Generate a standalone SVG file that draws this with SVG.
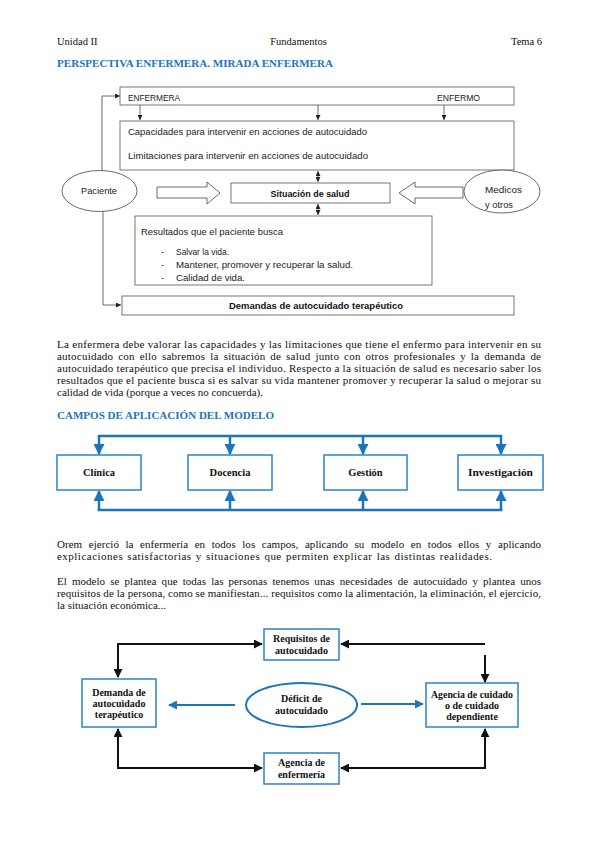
<svg xmlns="http://www.w3.org/2000/svg" width="599" height="848" viewBox="0 0 599 848">
<style>
.hd{font-family:"Liberation Serif",serif;font-size:10.5px;fill:#111}
.tt{font-family:"Liberation Serif",serif;font-size:10.5px;font-weight:bold;fill:#1b75bc}
.p{font-family:"Liberation Serif",serif;font-size:11px;fill:#111}
.s{font-family:"Liberation Sans",Arial,sans-serif;font-size:9px;fill:#222}
.sb{font-family:"Liberation Sans",Arial,sans-serif;font-size:9px;font-weight:bold;fill:#111}
.bx{fill:#fff;stroke:#555;stroke-width:0.8}
.ln{fill:none;stroke:#444;stroke-width:0.8}
.cb{fill:#fff;stroke:#2b82c9;stroke-width:1.5}
.ct{font-family:"Liberation Serif",serif;font-size:10.5px;font-weight:bold;fill:#111;text-anchor:middle}
.cl{fill:none;stroke:#1b75bc;stroke-width:2.5}
.bl{fill:none;stroke:#111;stroke-width:2}
.bu{fill:none;stroke:#1b75bc;stroke-width:2}
.nb{font-family:"Liberation Serif",serif;font-size:10px;font-weight:bold;fill:#111;text-anchor:middle}
</style>
<defs>
<marker id="ms" viewBox="0 0 10 10" refX="10" refY="5" markerWidth="5" markerHeight="5" orient="auto-start-reverse" markerUnits="userSpaceOnUse"><path d="M0,0 L10,5 L0,10 Z" fill="#222"/></marker>
<marker id="mc" viewBox="0 0 10 10" refX="9" refY="5" markerWidth="11" markerHeight="11" orient="auto" markerUnits="userSpaceOnUse"><path d="M0,0 L10,5 L0,10 Z" fill="#1b75bc"/></marker>
<marker id="mk" viewBox="0 0 10 10" refX="9" refY="5" markerWidth="9" markerHeight="9" orient="auto-start-reverse" markerUnits="userSpaceOnUse"><path d="M0,0 L10,5 L0,10 Z" fill="#111"/></marker>
<marker id="mb" viewBox="0 0 10 10" refX="9" refY="5" markerWidth="9" markerHeight="9" orient="auto" markerUnits="userSpaceOnUse"><path d="M0,0 L10,5 L0,10 Z" fill="#1b75bc"/></marker>
</defs>
<rect width="599" height="848" fill="#fff"/>

<!-- header -->
<text class="hd" x="57" y="45">Unidad II</text>
<text class="hd" x="298.5" y="45" text-anchor="middle">Fundamentos</text>
<text class="hd" x="542" y="45" text-anchor="end">Tema 6</text>
<text class="tt" x="57" y="67" textLength="276" lengthAdjust="spacingAndGlyphs">PERSPECTIVA ENFERMERA. MIRADA ENFERMERA</text>

<!-- diagram 1 -->
<g id="d1-connectors">
<line class="ln" x1="140" y1="105" x2="140" y2="120" marker-end="url(#ms)"/>
<line class="ln" x1="318" y1="105" x2="318" y2="120" marker-end="url(#ms)"/>
<line class="ln" x1="444" y1="105" x2="444" y2="120" marker-end="url(#ms)"/>
<line class="ln" x1="318" y1="171" x2="318" y2="182" marker-start="url(#ms)" marker-end="url(#ms)"/>
<line class="ln" x1="318" y1="204" x2="318" y2="215" marker-start="url(#ms)" marker-end="url(#ms)"/>
<polyline class="ln" points="102,171 102,96 120,96" marker-end="url(#ms)"/>
<polyline class="ln" points="103,211 103,305 121,305" marker-end="url(#ms)"/>
<path d="M157,187 L207,187 L207,182 L220,193 L207,204 L207,198 L157,198 Z" fill="#fff" stroke="#444" stroke-width="0.8"/>
<path d="M463,187 L415,187 L415,182 L399,193 L415,204 L415,198 L463,198 Z" fill="#fff" stroke="#444" stroke-width="0.8"/>
</g>
<g id="enfermera-enfermo">
<rect class="bx" x="120" y="87" width="394" height="18"/>
<text class="s" x="128" y="101" textLength="52" lengthAdjust="spacingAndGlyphs">ENFERMERA</text>
<text class="s" x="437" y="101" textLength="43" lengthAdjust="spacingAndGlyphs">ENFERMO</text>
</g>
<g id="capacidades">
<rect class="bx" x="120" y="121" width="394" height="49"/>
<text class="s" x="128" y="134.5" textLength="239" lengthAdjust="spacingAndGlyphs">Capacidades para intervenir en acciones de autocuidado</text>
<text class="s" x="128" y="158.5" textLength="240" lengthAdjust="spacingAndGlyphs">Limitaciones para intervenir en acciones de autocuidado</text>
</g>
<g id="situacion">
<rect class="bx" x="231" y="183" width="159" height="20"/>
<text class="sb" x="310" y="196.5" text-anchor="middle" textLength="79" lengthAdjust="spacingAndGlyphs">Situación de salud</text>
</g>
<g id="paciente">
<ellipse cx="99.5" cy="191" rx="37.5" ry="20.5" fill="#fff" stroke="#444" stroke-width="0.8"/>
<text class="s" x="99" y="194" text-anchor="middle" textLength="36" lengthAdjust="spacingAndGlyphs">Paciente</text>
</g>
<g id="medicos">
<ellipse cx="502" cy="191.5" rx="38" ry="21.5" fill="#fff" stroke="#444" stroke-width="0.8"/>
<text class="s" x="485" y="193" textLength="37" lengthAdjust="spacingAndGlyphs">Medicos</text>
<text class="s" x="485" y="208" textLength="28" lengthAdjust="spacingAndGlyphs">y otros</text>
</g>
<g id="resultados">
<rect class="bx" x="135" y="216" width="297" height="69"/>
<text class="s" x="141" y="235" textLength="142" lengthAdjust="spacingAndGlyphs">Resultados que el paciente busca</text>
<text class="s" x="161" y="254.5">-</text>
<text class="s" x="176" y="254.5" textLength="53" lengthAdjust="spacingAndGlyphs">Salvar la vida.</text>
<text class="s" x="161" y="267.5">-</text>
<text class="s" x="176" y="267.5" textLength="177" lengthAdjust="spacingAndGlyphs">Mantener, promover y recuperar la salud.</text>
<text class="s" x="161" y="280.5">-</text>
<text class="s" x="176" y="280.5" textLength="69" lengthAdjust="spacingAndGlyphs">Calidad de vida.</text>
</g>
<g id="demandas">
<rect class="bx" x="122" y="296" width="392" height="19"/>
<text class="sb" x="316" y="309" text-anchor="middle" textLength="174" lengthAdjust="spacingAndGlyphs">Demandas de autocuidado terapéutico</text>
</g>

<!-- paragraph 1 -->
<text class="p" x="57" y="347.5" textLength="484" lengthAdjust="spacing">La enfermera debe valorar las capacidades y las limitaciones que tiene el enfermo para intervenir en su</text>
<text class="p" x="57" y="359.5" textLength="484" lengthAdjust="spacing" word-spacing="2">autocuidado con ello sabremos la situación de salud junto con otros profesionales y la demanda de</text>
<text class="p" x="57" y="371.5" textLength="484" lengthAdjust="spacing">autocuidado terapéutico que precisa el individuo. Respecto a la situación de salud es necesario saber los</text>
<text class="p" x="57" y="383.5" textLength="484" lengthAdjust="spacing">resultados que el paciente busca si es salvar su vida mantener promover y recuperar la salud o mejorar su</text>
<text class="p" x="57" y="395.5" textLength="206" lengthAdjust="spacing">calidad de vida (porque a veces no concuerda).</text>

<text class="tt" x="57" y="418.5" textLength="217" lengthAdjust="spacingAndGlyphs">CAMPOS DE APLICACIÓN DEL MODELO</text>

<!-- diagram 2 -->
<g id="campos-connectors">
<line class="cl" x1="97.75" y1="436" x2="502.25" y2="436"/>
<line class="cl" x1="97.75" y1="510" x2="502.25" y2="510"/>
<line class="cl" x1="99" y1="436" x2="99" y2="454" marker-end="url(#mc)"/>
<line class="cl" x1="230" y1="436" x2="230" y2="454" marker-end="url(#mc)"/>
<line class="cl" x1="363" y1="436" x2="363" y2="454" marker-end="url(#mc)"/>
<line class="cl" x1="501" y1="436" x2="501" y2="454" marker-end="url(#mc)"/>
<line class="cl" x1="99" y1="510" x2="99" y2="491" marker-end="url(#mc)"/>
<line class="cl" x1="230" y1="510" x2="230" y2="491" marker-end="url(#mc)"/>
<line class="cl" x1="363" y1="510" x2="363" y2="491" marker-end="url(#mc)"/>
<line class="cl" x1="501" y1="510" x2="501" y2="491" marker-end="url(#mc)"/>
</g>
<g id="clinica"><rect class="cb" x="57" y="455" width="84" height="35"/><text class="ct" x="99" y="476">Clínica</text></g>
<g id="docencia"><rect class="cb" x="188" y="455" width="84" height="35"/><text class="ct" x="230" y="476">Docencia</text></g>
<g id="gestion"><rect class="cb" x="324" y="455" width="83" height="35"/><text class="ct" x="365.5" y="476">Gestión</text></g>
<g id="investigacion"><rect class="cb" x="458" y="455" width="85" height="35"/><text class="ct" x="500.5" y="476" textLength="65" lengthAdjust="spacingAndGlyphs">Investigación</text></g>

<!-- paragraphs 2 and 3 -->
<text class="p" x="57" y="548" textLength="484" lengthAdjust="spacing" word-spacing="3.8">Orem ejerció la enfermería en todos los campos, aplicando su modelo en todos ellos y aplicando</text>
<text class="p" x="57" y="560" textLength="435" lengthAdjust="spacing" word-spacing="1">explicaciones satisfactorias y situaciones que permiten explicar las distintas realidades.</text>
<text class="p" x="57" y="585" textLength="484" lengthAdjust="spacing" word-spacing="2.3">El modelo se plantea que todas las personas tenemos unas necesidades de autocuidado y plantea unos</text>
<text class="p" x="57" y="597" textLength="484" lengthAdjust="spacing">requisitos de la persona, como se manifiestan... requisitos como la alimentación, la eliminación, el ejercicio,</text>
<text class="p" x="57" y="609">la situación económica...</text>

<!-- diagram 3 -->
<g id="orem-connectors">
<polyline class="bl" points="118,677 118,644 262,644" marker-start="url(#mk)" marker-end="url(#mk)"/>
<line class="bl" x1="485" y1="644" x2="341" y2="644" marker-end="url(#mk)"/>
<line class="bl" x1="485" y1="655" x2="485" y2="682" marker-end="url(#mk)"/>
<polyline class="bl" points="118,729 118,768 262,768" marker-start="url(#mk)" marker-end="url(#mk)"/>
<polyline class="bl" points="485,729 485,768 341,768" marker-start="url(#mk)" marker-end="url(#mk)"/>
<line class="bu" x1="235" y1="705" x2="169" y2="705" marker-end="url(#mb)"/>
<line class="bu" x1="361" y1="704" x2="423" y2="704" marker-end="url(#mb)"/>
</g>
<g id="requisitos"><rect class="cb" x="264" y="629" width="75" height="31"/><text class="nb" x="301.5" y="642">Requisitos de</text><text class="nb" x="301.5" y="654">autocuidado</text></g>
<g id="demanda"><rect class="cb" x="82" y="679" width="74" height="48"/><text class="nb" x="119" y="696">Demanda de</text><text class="nb" x="119" y="707">autocuidado</text><text class="nb" x="119" y="718">terapéutico</text></g>
<g id="deficit"><ellipse cx="301.5" cy="705" rx="55.5" ry="22" fill="#fff" stroke="#1b75bc" stroke-width="2"/><text class="nb" x="301.5" y="702">Déficit de</text><text class="nb" x="301.5" y="714">autocuidado</text></g>
<g id="agencia-cuidado"><rect class="cb" x="426" y="683" width="92" height="44"/><text class="nb" x="472" y="697.5" textLength="82" lengthAdjust="spacingAndGlyphs">Agencia de cuidado</text><text class="nb" x="472" y="708.5">o de cuidado</text><text class="nb" x="472" y="719.5">dependiente</text></g>
<g id="agencia-enfermeria"><rect class="cb" x="264" y="753" width="75" height="31"/><text class="nb" x="301.5" y="766">Agencia de</text><text class="nb" x="301.5" y="778">enfermería</text></g>
</svg>
